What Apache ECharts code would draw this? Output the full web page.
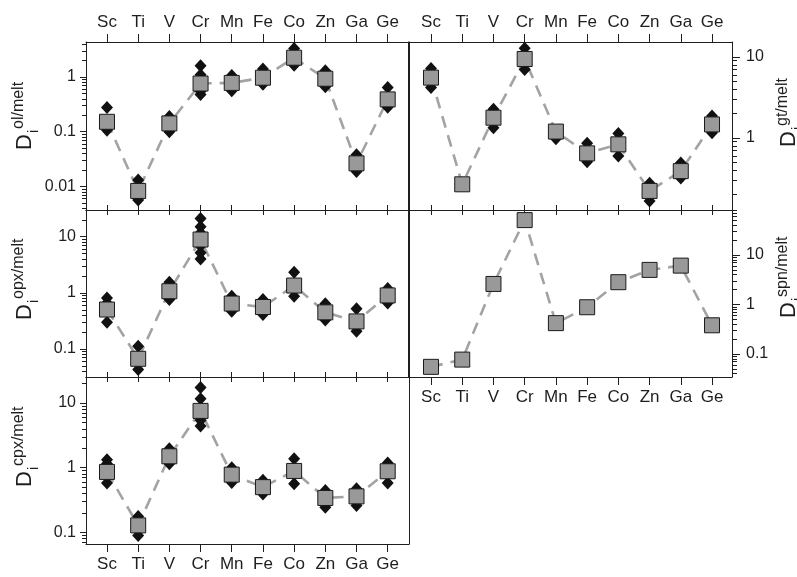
<!DOCTYPE html>
<html><head><meta charset="utf-8">
<script src="https://cdn.jsdelivr.net/npm/echarts@6/dist/echarts.min.js"></script>
<style>html,body{margin:0;padding:0;background:#fff}#c{width:797px;height:577px}</style>
</head><body><div id="c"></div>
<script>
// ---- data ----
const elements = ['Sc','Ti','V','Cr','Mn','Fe','Co','Zn','Ga','Ge'];

// olivine / melt
const olMean = [0.152, 0.0083, 0.142, 0.76, 0.78, 0.97, 2.25, 0.93, 0.0265, 0.39];
const olSingle = [[0.277, 0.107], [0.0132, 0.0057], [0.19, 0.1], [1.6, 1.1, 0.9, 0.55, 0.48], [1.07, 0.56], [1.4, 0.74], [3.3, 1.63], [1.3, 0.66], [0.038, 0.0187], [0.64, 0.28]];
const olTicks = [0.01, 0.1, 1];

// garnet / melt
const gtMean = [5.56, 0.268, 1.78, 9.45, 1.2, 0.646, 0.835, 0.222, 0.39, 1.47];
const gtSingle = [[7.2, 4.2], [], [2.26, 1.34], [12.8, 7.0], [0.98], [0.86, 0.51], [1.14, 0.6], [0.276, 0.167], [0.49, 0.32], [1.87, 1.16]];
const gtTicks = [1, 10];

// orthopyroxene / melt
const opxMean = [0.505, 0.067, 1.07, 8.9, 0.645, 0.56, 1.35, 0.45, 0.31, 0.9];
const opxSingle = [[0.81, 0.66, 0.30], [0.112, 0.043], [1.55, 0.76], [21, 15, 11.7, 6.8, 5.2, 4.0], [0.87, 0.47], [0.76, 0.41], [2.33, 0.87], [0.64, 0.33], [0.52, 0.208], [1.19, 0.66]];
const opxTicks = [0.1, 1, 10];

// spinel / melt
const spnMean = [0.055, 0.077, 2.6, 50.7, 0.42, 0.88, 2.82, 5.0, 6.1, 0.38];
const spnTicks = [0.1, 1, 10];

// clinopyroxene / melt
const cpxMean = [0.86, 0.128, 1.5, 7.56, 0.78, 0.5, 0.89, 0.34, 0.36, 0.88];
const cpxSingle = [[1.33, 1.15, 0.58], [0.176, 0.089], [1.97, 1.15], [17.4, 11.7, 5.4, 4.4], [1.0, 0.59], [0.64, 0.39], [1.38, 0.565], [0.445, 0.245], [0.47, 0.26], [1.18, 0.58]];
const cpxTicks = [0.1, 1, 10];

// ---- layout ----
const FONT = '"Liberation Sans", Arial, Helvetica, sans-serif';
const INK = '#1e1e1e';
const panels = [
  {name:'ol', mean:olMean, single:olSingle, ticks:olTicks, left:86, top:42, width:323, height:168, xr:[-0.673, 9.683], yr:[-2.429, 0.639], side:'left', xLab:'top', tTop:8, tBot:5},
  {name:'gt', mean:gtMean, single:gtSingle, ticks:gtTicks, left:408, top:42, width:324, height:168, xr:[-0.737, 9.64], yr:[-0.889, 1.185], side:'right', xLab:'top', tTop:8, tBot:5},
  {name:'opx', mean:opxMean, single:opxSingle, ticks:opxTicks, left:86, top:210, width:323, height:167, xr:[-0.673, 9.683], yr:[-1.498, 1.475], side:'left', xLab:null, tTop:5, tBot:5},
  {name:'spn', mean:spnMean, single:null, ticks:spnTicks, left:408, top:210, width:324, height:167, xr:[-0.737, 9.64], yr:[-1.465, 1.909], side:'right', xLab:'bottom', tTop:5, tBot:8},
  {name:'cpx', mean:cpxMean, single:cpxSingle, ticks:cpxTicks, left:86, top:377, width:323, height:167, xr:[-0.673, 9.683], yr:[-1.181, 1.403], side:'left', xLab:'bottom', tTop:5, tBot:8}
];

const lg = v => Math.log10(v);
const idx = elements.map((_, i) => i);
const axLine = {show:true, onZero:false, lineStyle:{color:INK, width:1}};
const tickStyle = {color:INK, width:1};

const grid = [], xAxis = [], yAxis = [], series = [], graphic = [];

panels.forEach((p, g) => {
  grid.push({left:p.left, top:p.top, width:p.width, height:p.height, containLabel:false});
  ['bottom', 'top'].forEach(pos => {
    xAxis.push({
      type:'value', gridIndex:g, position:pos, min:p.xr[0], max:p.xr[1],
      axisLine:axLine, splitLine:{show:false},
      axisTick:{show:true, inside:false, length: pos === 'top' ? p.tTop : p.tBot, customValues:idx, lineStyle:tickStyle},
      axisLabel:{show: p.xLab === pos, customValues:idx, formatter: v => elements[Math.round(v)] || '',
        margin: pos === 'top' ? 11 : 12, fontSize:17, fontFamily:FONT, color:INK}
    });
  });
  const majors = p.ticks.map(lg);
  const minors = [];
  for (let n = Math.floor(p.yr[0]); n <= Math.ceil(p.yr[1]); n++) {
    for (let k = 2; k <= 9; k++) {
      const v = n + lg(k);
      if (v > p.yr[0] && v < p.yr[1]) minors.push(v);
    }
  }
  const outer = p.side === 'right';
  const yBase = yAxis.length;
  yAxis.push({
    type:'value', gridIndex:g, position:p.side, min:p.yr[0], max:p.yr[1],
    axisLine:axLine, splitLine:{show:false},
    axisTick:{show:true, inside:false, length: outer ? 8 : 6, customValues:majors, lineStyle:tickStyle},
    axisLabel:{show:true, customValues:majors, formatter: v => String(Math.round(Math.pow(10, v) * 1000) / 1000),
      margin: outer ? 14 : 10, fontSize:16, fontFamily:FONT, color:INK}
  });
  yAxis.push({
    type:'value', gridIndex:g, position:p.side, min:p.yr[0], max:p.yr[1],
    axisLine:{show:false, onZero:false}, splitLine:{show:false}, axisLabel:{show:false},
    axisTick:{show:true, inside:false, length: outer ? 5 : 4, customValues:minors, lineStyle:tickStyle}
  });
  yAxis.push({
    type:'value', gridIndex:g, position: p.side === 'left' ? 'right' : 'left', min:p.yr[0], max:p.yr[1],
    axisLine:axLine, splitLine:{show:false}, axisLabel:{show:false}, axisTick:{show:false}
  });
  const xi = g * 2;
  series.push({
    type:'line', xAxisIndex:xi, yAxisIndex:yBase, z:2, silent:true, showSymbol:false, symbol:'none',
    data:p.mean.map((v, i) => [i, lg(v)]),
    lineStyle:{color:'#a3a3a3', width:2.6, type:[12, 8]}
  });
  if (p.single) {
    const pts = [];
    p.single.forEach((arr, i) => arr.forEach(v => pts.push([i, lg(v)])));
    series.push({
      type:'scatter', xAxisIndex:xi, yAxisIndex:yBase, z:3, silent:true,
      symbol:'diamond', symbolSize:[12, 13], itemStyle:{color:'#111', borderWidth:0, opacity:1},
      data:pts
    });
  }
  series.push({
    type:'scatter', xAxisIndex:xi, yAxisIndex:yBase, z:4, silent:true,
    symbol:'rect', symbolSize:15, itemStyle:{color:'#999999', borderColor:'#1a1a1a', borderWidth:1, opacity:1},
    data:p.mean.map((v, i) => [i, lg(v)])
  });
});

function yTitle(x, y, sup) {
  return {
    type:'group', x:x, y:y, rotation:Math.PI / 2, silent:true,
    children:[
      {type:'text', x:0, y:0, style:{text:'D', font:'22px ' + FONT, fill:INK, align:'left', verticalAlign:'middle', textAlign:'left', textVerticalAlign:'middle'}},
      {type:'text', x:17, y:9, style:{text:'i', font:'14px ' + FONT, fill:INK, align:'left', verticalAlign:'middle', textAlign:'left', textVerticalAlign:'middle'}},
      {type:'text', x:21, y:-6, style:{text:sup, font:'16px ' + FONT, fill:INK, align:'left', verticalAlign:'middle', textAlign:'left', textVerticalAlign:'middle'}}
    ]
  };
}
graphic.push(yTitle(25, 150, 'ol/melt'));
graphic.push(yTitle(25, 320, 'opx/melt'));
graphic.push(yTitle(25, 487, 'cpx/melt'));
graphic.push(yTitle(789, 147, 'gt/melt'));
graphic.push(yTitle(789, 318, 'spn/melt'));

const chart = echarts.init(document.getElementById('c'), null, {renderer:'canvas'});
chart.setOption({animation:false, backgroundColor:'#fff', grid, xAxis, yAxis, series, graphic});
</script>
</body></html>
